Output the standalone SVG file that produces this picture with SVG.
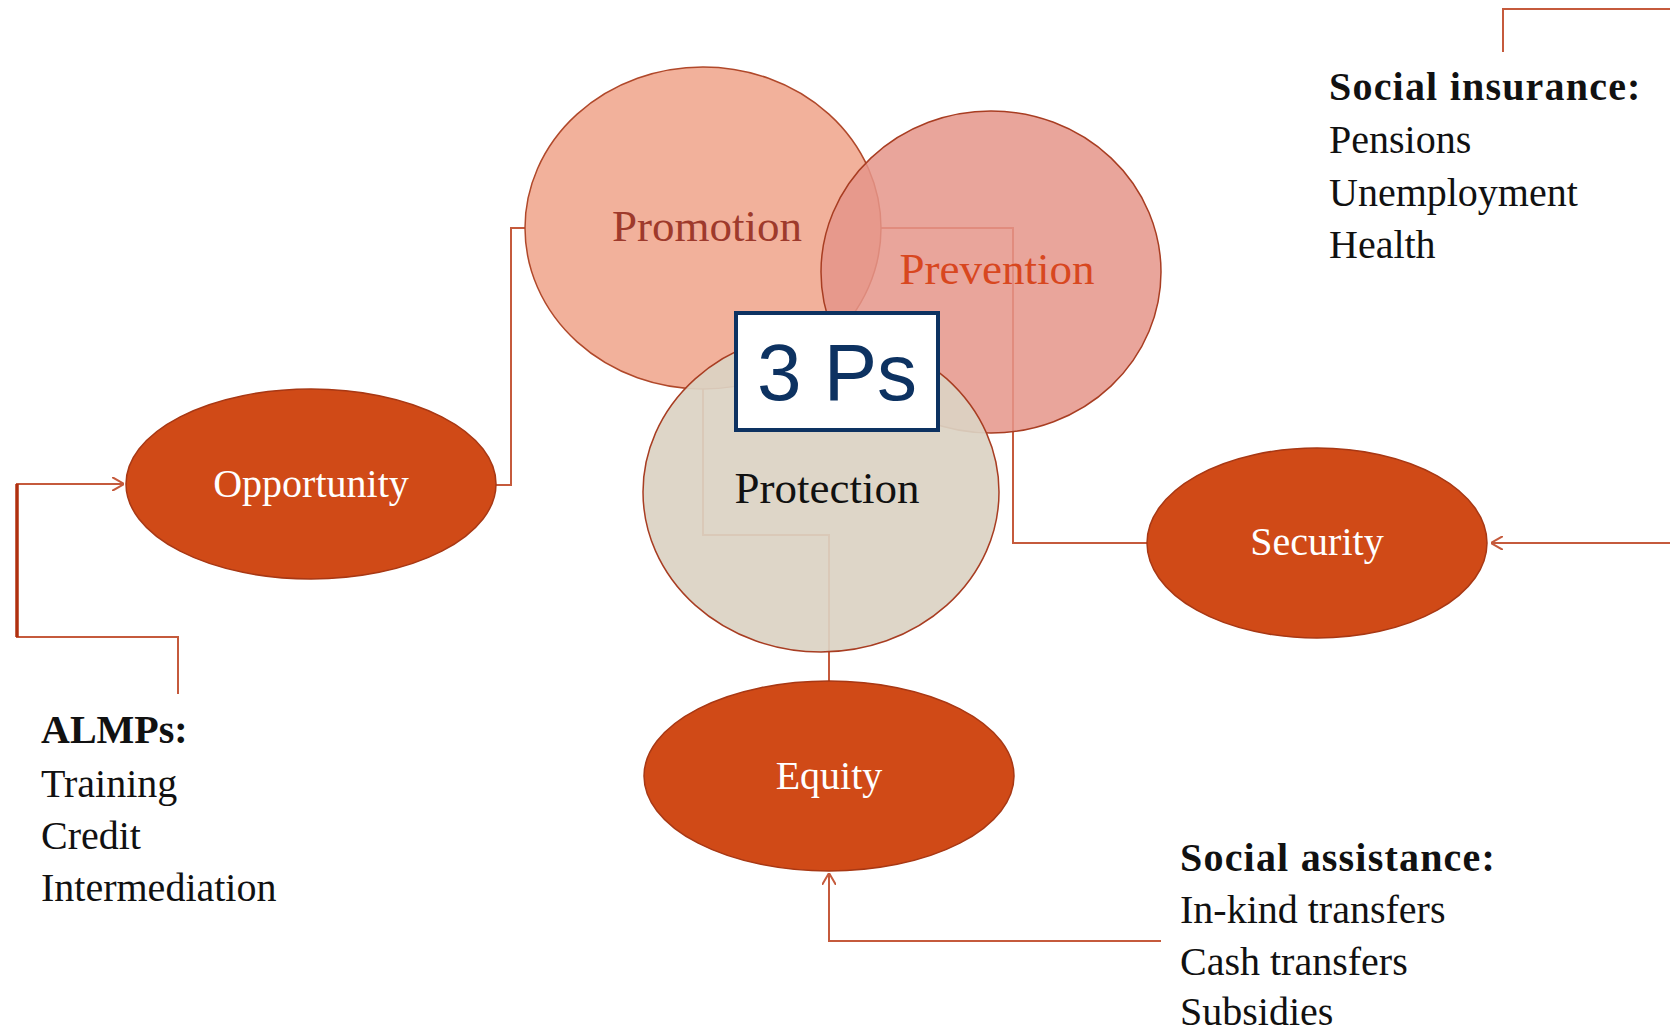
<svg xmlns="http://www.w3.org/2000/svg" width="1670" height="1034" viewBox="0 0 1670 1034">
<style>
.conn{fill:none;stroke:#C55A3C;stroke-width:2}
.pill{fill:#D04A17;stroke:#A83814;stroke-width:1.5}
.pl{font-family:"Liberation Serif",serif;font-size:40px;fill:#FFFFFF;text-anchor:middle}
.cl{font-family:"Liberation Serif",serif;font-size:45px;text-anchor:middle}
.tb{font-family:"Liberation Serif",serif;font-size:40px;fill:#111111}
.bold{font-weight:bold}
</style>
<defs>
<marker id="arr" viewBox="0 0 12 14" refX="12" refY="7" markerWidth="12" markerHeight="14" markerUnits="userSpaceOnUse" orient="auto">
<path d="M0,0 L12,7 L0,14" fill="none" stroke="#C55A3C" stroke-width="2"/>
</marker>
</defs>
<rect width="1670" height="1034" fill="#FFFFFF"/>
<g id="connectors">
<path class="conn" d="M496,485 H511 V228 H525"/>
<path class="conn" d="M1147,543 H1013 V228 H881"/>
<path class="conn" d="M829,681 V535 H703 V389"/>
<path class="conn" d="M178,694 V637 H17 V484 H124" marker-end="url(#arr)"/>
<line x1="17" y1="484" x2="17" y2="637" stroke="#B0300F" stroke-width="3.5"/>
<path class="conn" d="M1503,52 V9 H1670"/>
<path class="conn" d="M1670,543 H1491" marker-end="url(#arr)"/>
<path class="conn" d="M1161,941 H829 V873" marker-end="url(#arr)"/>
</g>
<g id="promotion">
<ellipse cx="703" cy="228" rx="178" ry="161" fill="#F2B19B" stroke="#B0482A" stroke-width="1.5"/>
<text class="cl" x="707" y="241" fill="#9E3A2C">Promotion</text>
</g>
<g id="prevention">
<ellipse cx="991" cy="272" rx="170" ry="161" fill="#E5958A" fill-opacity="0.85" stroke="#A83D22" stroke-width="1.5"/>
<text class="cl" x="997" y="284" fill="#D8471F">Prevention</text>
</g>
<g id="protection">
<ellipse cx="821" cy="492" rx="178" ry="160" fill="#DBD2C3" fill-opacity="0.92" stroke="#A83D22" stroke-width="1.5"/>
<text class="cl" x="827" y="503" fill="#111111">Protection</text>
</g>
<g id="three-ps">
<rect x="736" y="313" width="202" height="117" fill="#FFFFFF" stroke="#0D3261" stroke-width="4"/>
<text x="837" y="400" font-family="Liberation Sans, Arial, sans-serif" font-size="80" fill="#0D3261" text-anchor="middle">3 Ps</text>
</g>
<g id="opportunity">
<ellipse class="pill" cx="311" cy="484" rx="185" ry="95"/>
<text class="pl" x="311" y="497">Opportunity</text>
</g>
<g id="security">
<ellipse class="pill" cx="1317" cy="543" rx="170" ry="95"/>
<text class="pl" x="1317" y="555">Security</text>
</g>
<g id="equity">
<ellipse class="pill" cx="829" cy="776" rx="185" ry="95"/>
<text class="pl" x="829" y="789">Equity</text>
</g>
<g id="almps">
<text class="tb bold" x="41" y="743">ALMPs:</text>
<text class="tb" x="41" y="797">Training</text>
<text class="tb" x="41" y="849">Credit</text>
<text class="tb" x="41" y="901">Intermediation</text>
</g>
<g id="social-insurance">
<text class="tb bold" x="1329" y="100" letter-spacing="1.2">Social insurance:</text>
<text class="tb" x="1329" y="153">Pensions</text>
<text class="tb" x="1329" y="206">Unemployment</text>
<text class="tb" x="1329" y="258">Health</text>
</g>
<g id="social-assistance">
<text class="tb bold" x="1180" y="871" letter-spacing="1.2">Social assistance:</text>
<text class="tb" x="1180" y="923">In-kind transfers</text>
<text class="tb" x="1180" y="975">Cash transfers</text>
<text class="tb" x="1180" y="1025">Subsidies</text>
</g>
</svg>
